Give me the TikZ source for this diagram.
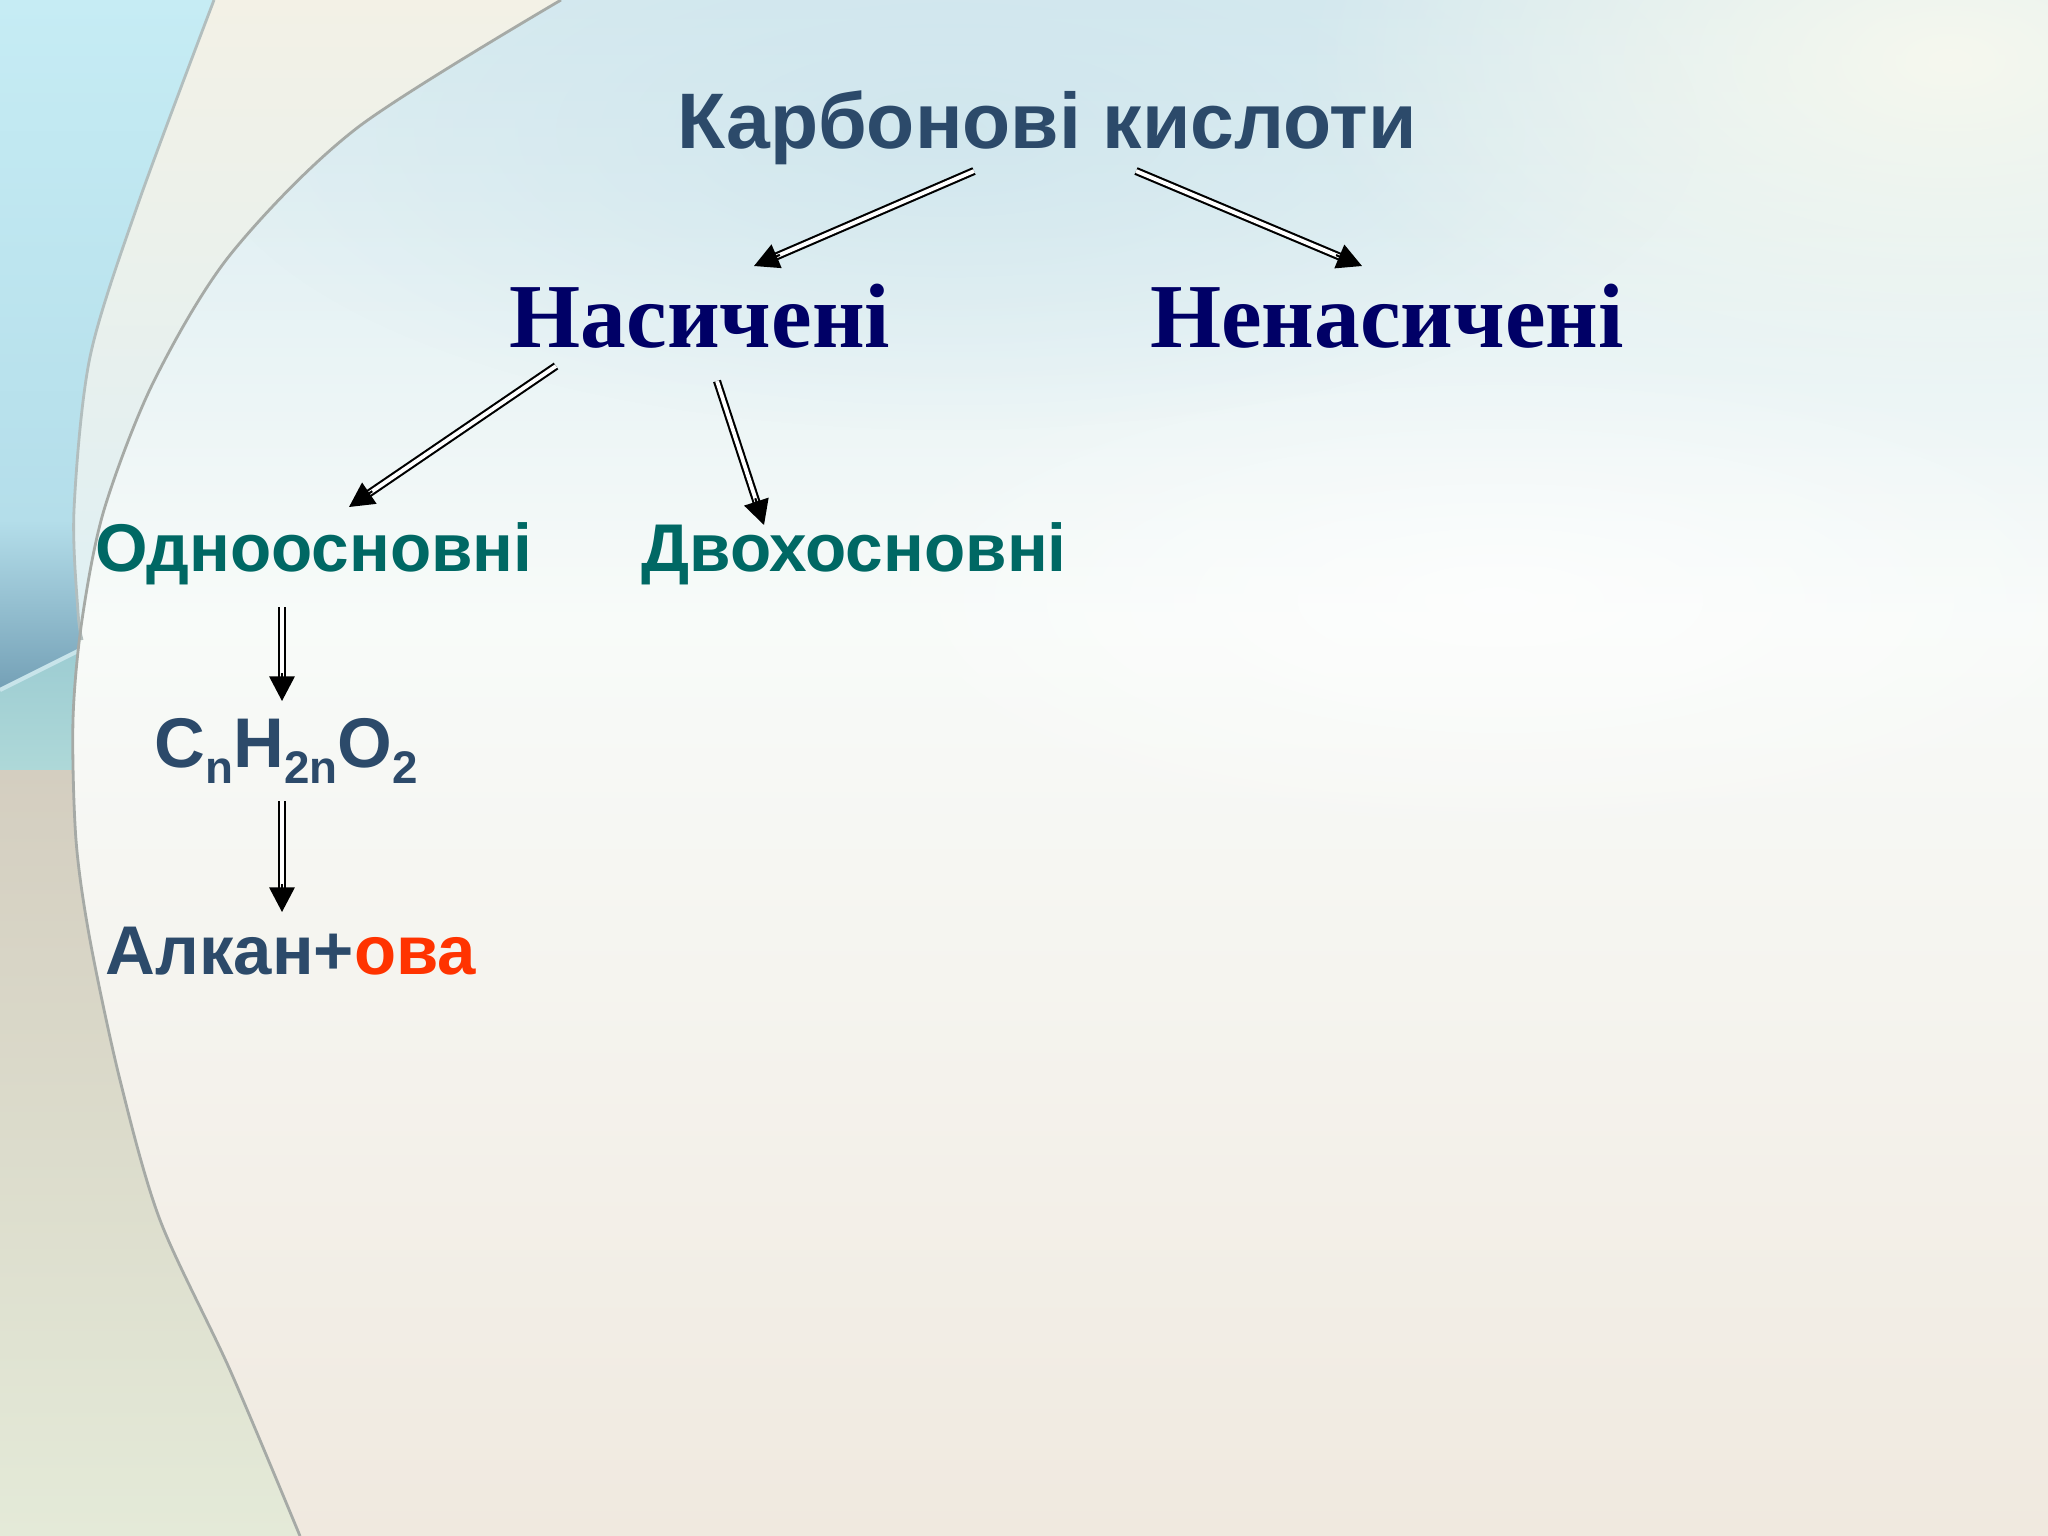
\documentclass[tikz,border=0pt]{standalone}
\usepackage{fontspec}
\setmainfont{Liberation Sans}
\newfontfamily\lsans{Liberation Sans}
\newfontfamily\lserif{Liberation Serif}
\usetikzlibrary{arrows.meta,calc,fadings}
\tikzfading[name=softout, inner color=transparent!0, outer color=transparent!100]
\definecolor{slate}{RGB}{44,74,106}
\definecolor{navyt}{RGB}{0,0,102}
\definecolor{tealt}{RGB}{0,104,100}
\definecolor{redt}{RGB}{255,51,0}
\definecolor{bgtop}{RGB}{214,234,240}
\definecolor{bgmid}{RGB}{248,251,249}
\definecolor{bglow}{RGB}{242,236,227}
\definecolor{bgbot}{RGB}{240,233,223}
\definecolor{lf1}{RGB}{198,236,244}
\definecolor{lf2}{RGB}{180,222,234}
\definecolor{lf3}{RGB}{116,160,182}
\definecolor{lf4}{RGB}{156,204,210}
\definecolor{lf4b}{RGB}{174,216,216}
\definecolor{lf5}{RGB}{212,206,192}
\definecolor{lf6}{RGB}{228,234,216}
\definecolor{cream}{RGB}{243,241,230}
\definecolor{arcgrey}{RGB}{166,170,166}
\newcommand\lowsub[1]{\raisebox{-0.24em}{\fontsize{13pt}{13pt}\selectfont #1}}
\tikzset{
  lbl/.style={inner sep=0pt, anchor=base},
  ttl/.style={lbl, font=\lsans\bfseries\fontsize{22.4pt}{26pt}\selectfont, text=slate},
  big/.style={lbl, font=\lserif\bfseries\fontsize{26pt}{30pt}\selectfont, text=navyt},
  midl/.style={lbl, font=\lsans\bfseries\fontsize{19.2pt}{22pt}\selectfont, text=tealt},
  frm/.style={lbl, font=\lsans\bfseries\fontsize{20pt}{24pt}\selectfont, text=slate},
  frm2/.style={lbl, font=\lsans\bfseries\fontsize{19.6pt}{24pt}\selectfont, text=slate},
  dblshaft/.style={draw=black, double=white, line width=0.6pt, double distance=1.1pt},
  dbltip/.style={-{Triangle[length=7pt,width=7.2pt]}, line width=0.6pt, draw=black},
  arcline/.style={draw=arcgrey, line width=0.8pt},
}
\newcommand\dblarrow[2]{%
  \draw[dblshaft] (#1) -- ($(#2)!5pt!(#1)$);
  \draw[dbltip] ($(#2)!8pt!(#1)$) -- (#2);}
\begin{document}
\begin{tikzpicture}[x=0.01cm,y=-0.01cm]
\useasboundingbox (0,0) rectangle (2048,1536);
% ---------- background ----------
\shade[top color=bgtop, bottom color=bgmid] (0,0) rectangle (2048,621);
\shade[top color=bgmid, middle color=bglow, bottom color=bgbot] (0,620) rectangle (2048,1536);
\fill[color={rgb,255:red,204;green,228;blue,236}, path fading=softout, opacity=0.7] (950,130) ellipse (7.5cm and 3cm);
\fill[color={rgb,255:red,246;green,248;blue,238}, path fading=softout] (1950,60) ellipse (6.5cm and 3.5cm);
\fill[color=white, path fading=softout, opacity=0.7] (1500,600) ellipse (7cm and 2.5cm);
% left outer region
\begin{scope}
  \clip plot[smooth] coordinates {(561,0) (357,128) (230,255) (153,383) (104,510) (82,620) (73,720) (76,840) (90,940) (120,1080) (160,1220) (230,1370) (300,1536)} -- (0,1536) -- (0,0) -- cycle;
  \shade[top color=lf1, bottom color=lf2] (0,0) rectangle (700,521);
  \shade[top color=lf2, bottom color=lf3] (0,520) -- (700,520) -- (700,646) -- (90,646) -- (0,690) -- cycle;
  \shade[top color=lf4, bottom color=lf4b] (0,689) -- (90,645) -- (700,645) -- (700,771) -- (0,771) -- cycle;
  \draw[color={rgb,255:red,200;green,228;blue,234}, line width=1.2pt] (0,690) -- (90,645);
  \shade[top color=lf5, bottom color=lf6] (0,770) rectangle (700,1536);
  % between the two arcs
  \begin{scope}
    \clip plot[smooth] coordinates {(214,0) (138,204) (90,357) (74,510) (78,612) (82,640)} -- plot[smooth] coordinates {(82,620) (104,510) (153,383) (230,255) (357,128) (561,0)} -- cycle;
    \shade[top color=cream, bottom color={rgb,255:red,222;green,240;blue,244}] (0,0) rectangle (600,650);
  \end{scope}
\end{scope}
\draw[arcline, draw={rgb,255:red,178;green,190;blue,190}] plot[smooth] coordinates {(214,0) (138,204) (90,357) (74,510) (78,612) (82,640)};
\draw[arcline] plot[smooth] coordinates {(561,0) (357,128) (230,255) (153,383) (104,510) (82,620) (73,720) (76,840) (90,940) (120,1080) (160,1220) (230,1370) (300,1536)};
% ---------- texts ----------
\node[ttl] (title) at (1047,148) {Карбонові кислоти};
\node[big] (sat) at (700,347) {Насичені};
\node[big] (unsat) at (1387,347) {Ненасичені};
\node[midl] (mono) at (314,571) {Одноосновні};
\node[midl] (di) at (854,571) {Двохосновні};
\node[frm] (formula) at (286,767) {C\lowsub{n}H\lowsub{2n}O\lowsub{2}};
\node[frm2] (name) at (291,974) {Алкан+\textcolor{redt}{ова}};
% ---------- connectors ----------
\coordinate (a1s) at (974,171);  \coordinate (a1e) at (754,266);
\coordinate (a2s) at (1136,171); \coordinate (a2e) at (1362,266);
\coordinate (a3s) at (556,366);  \coordinate (a3e) at (349,507);
\coordinate (a4s) at (717,381);  \coordinate (a4e) at (764,525);
\coordinate (a5s) at (282,607);  \coordinate (a5e) at (282,701);
\coordinate (a6s) at (282,801);  \coordinate (a6e) at (282,912);
\dblarrow{a1s}{a1e}
\dblarrow{a2s}{a2e}
\dblarrow{a3s}{a3e}
\dblarrow{a4s}{a4e}
\dblarrow{a5s}{a5e}
\dblarrow{a6s}{a6e}
\end{tikzpicture}
\end{document}
